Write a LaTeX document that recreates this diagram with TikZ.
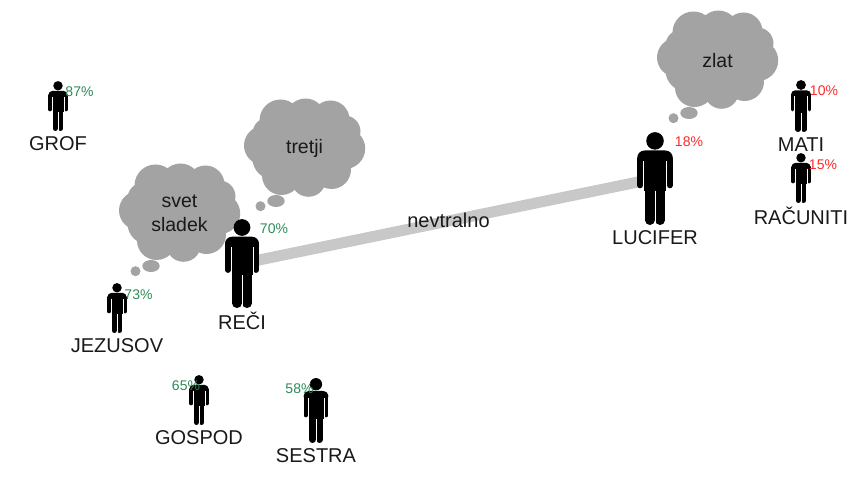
\documentclass[tikz,border=0pt]{standalone}
\usepackage{fontspec}
\setmainfont{Liberation Sans}
\definecolor{cloudgrey}{HTML}{A3A3A3}
\definecolor{linkgrey}{HTML}{C8C8C8}
\definecolor{pctgreen}{HTML}{2E8B57}
\definecolor{pctred}{HTML}{FF2A2A}
\tikzset{
  lbl/.style={inner sep=0pt,font=\fontsize{20}{24}\selectfont,text=black!90,align=center},
  pct/.style={inner sep=0pt,font=\fontsize{14}{16}\selectfont},
  link/.style={draw=linkgrey,line width=11pt},
}
% cx, top, height, node name, label
\newcommand{\personfig}[5]{%
  \pgfmathsetmacro{\sc}{#3/89}%
  \coordinate (#4) at (#1,#2+#3/2);
  \begin{scope}[shift={(#1,#2)},x=\sc pt,y=-\sc pt]
    \fill (0,8.5) circle[radius=8.4];
    \fill[rounded corners=\sc*7pt] (-17,32) -- (-17,17.7) -- (17,17.7) -- (17,32) -- cycle;
    \fill (-10.7,20) rectangle (10.7,56);
    \draw[line width=\sc*5.8pt,line cap=round] (-14.1,26) -- (-14.1,51);
    \draw[line width=\sc*5.8pt,line cap=round] (14.1,26) -- (14.1,51);
    \draw[line width=\sc*9.2pt,line cap=round] (-5,50) -- (-5,84.4);
    \draw[line width=\sc*9.2pt,line cap=round] (5,50) -- (5,84.4);
    \draw[white,line width=\sc*0.8pt] (-10.9,28) -- (-10.9,56) (10.9,28) -- (10.9,56);
    \draw[white,line width=\sc*0.8pt] (0,56) -- (0,88);
  \end{scope}
  \node[lbl] (#4label) at (#1,#2+#3+13) {#5};
}
% cx, cy, name, text
\newcommand{\thoughtcloud}[4]{%
  \begin{scope}[shift={(#1,#2)}]
    \fill[cloudgrey]
      (-24,-27) circle[radius=21] (1,-29) circle[radius=20] (26,-28) circle[radius=19]
      (40,-16) circle[radius=16] (40.2,1) circle[radius=20.5] (27,22) circle[radius=19.5]
      (4,32) circle[radius=17.3] (-23,28) circle[radius=19.5] (-41,-2) circle[radius=19.5]
      (-31,11) circle[radius=21] (-36,-14) circle[radius=16] (0,0) circle[radius=40]
      (-28.5,53.5) ellipse[x radius=8.7,y radius=6] (-44,58.7) circle[radius=5];
    \node[lbl,font=\fontsize{19.5}{24}\selectfont] (#3) at (0,0.7) {#4};
  \end{scope}
}
\begin{document}
\begin{tikzpicture}[x=1pt,y=-1pt]
\useasboundingbox (0,0) rectangle (857,481);
\thoughtcloud{304.5}{147.5}{cloudb}{tretji}
\thoughtcloud{179.5}{212.5}{clouda}{svet\\sladek}
\thoughtcloud{717.5}{59.5}{cloudc}{zlat}
\coordinate (rc) at (242,263.5);
\coordinate (lc) at (655,178.5);
\draw[link] (rc) -- node[lbl,pos=0.5,yshift=1pt] (rel) {nevtralno} (lc);
\personfig{58}{81}{50}{grof}{GROF}
\personfig{117}{283}{50}{jez}{JEZUSOV}
\personfig{242}{219}{89}{reci}{REČI}
\personfig{199}{375}{50}{gos}{GOSPOD}
\personfig{316}{378}{65}{ses}{SESTRA}
\personfig{655}{132}{93}{luc}{LUCIFER}
\personfig{801}{80}{52}{mati}{MATI}
\personfig{801}{153}{50}{rac}{RAČUNITI}
\node[pct,text=pctgreen] (p1) at (79.5,91.5) {87\%};
\node[pct,text=pctgreen] (p2) at (138.5,294.5) {73\%};
\node[pct,text=pctgreen] (p3) at (274,228.5) {70\%};
\node[pct,text=pctgreen] (p4) at (186,385.5) {65\%};
\node[pct,text=pctgreen] (p5) at (299.5,388.5) {58\%};
\node[pct,text=pctred] (p6) at (689,141.5) {18\%};
\node[pct,text=pctred] (p7) at (824,90.5) {10\%};
\node[pct,text=pctred] (p8) at (823,164.5) {15\%};
\end{tikzpicture}
\end{document}
